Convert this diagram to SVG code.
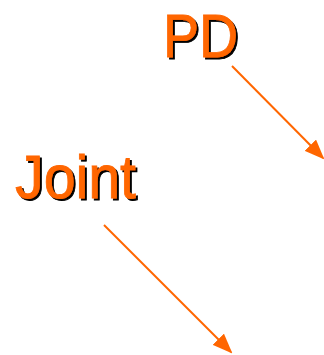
<svg xmlns="http://www.w3.org/2000/svg" width="324" height="355" viewBox="0 0 324 355">
<style>
.lbl{font-family:"Liberation Sans",Arial,sans-serif;font-size:62px;fill:#FF6600;stroke:#FF6600;stroke-width:0.8;filter:url(#sh)}
.conn{stroke:#FF6600;stroke-width:2;fill:none;marker-end:url(#ah)}
</style>
<defs>
<filter id="sh" x="-25%" y="-25%" width="150%" height="150%">
<feOffset in="SourceAlpha" dx="2" dy="2" result="o"/>
<feFlood flood-color="#000"/>
<feComposite in2="o" operator="in" result="s"/>
<feMerge><feMergeNode in="s"/><feMergeNode in="SourceGraphic"/></feMerge>
</filter>
<marker id="ah" markerWidth="10" markerHeight="8" refX="9" refY="4" orient="auto" markerUnits="strokeWidth" viewBox="0 0 10 8">
<path d="M0,0 L10,4 L0,8 Z" fill="#FF6600"/>
</marker>
</defs>
<g id="pd">
<text class="lbl" x="163" y="57" textLength="75" lengthAdjust="spacingAndGlyphs">PD</text>
</g>
<g id="joint">
<text class="lbl" x="15" y="198" textLength="121" lengthAdjust="spacingAndGlyphs">Joint</text>
</g>
<g id="connectors">
<line class="conn" x1="232" y1="66" x2="323" y2="158"/>
<line class="conn" x1="104" y1="225" x2="231" y2="352"/>
</g>
</svg>
